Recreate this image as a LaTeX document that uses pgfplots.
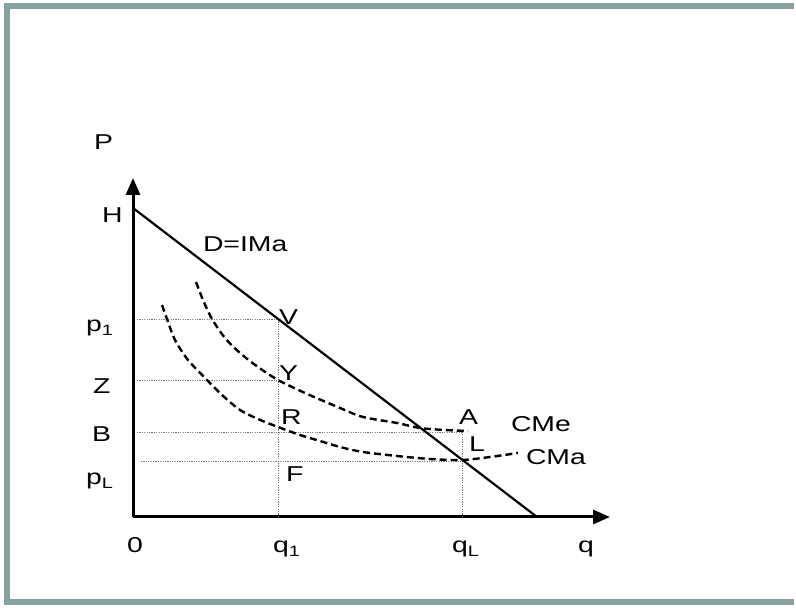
\documentclass[border=0pt]{standalone}
\usepackage{pgfplots}
\pgfplotsset{compat=1.18}
\usetikzlibrary{arrows.meta}
\usepackage{fontspec}
\setmainfont{Liberation Sans}
\definecolor{framegray}{RGB}{135,160,160}
\definecolor{guide}{RGB}{120,120,120}
\newcommand{\wide}[1]{\scalebox{1.32}[1]{#1}}
\begin{document}
\begin{tikzpicture}[x=1bp,y=1bp]
\useasboundingbox (0,0) rectangle (796,608);
\fill[white] (0,0) rectangle (796,608);
\draw[framegray, line width=6bp] (794,6) -- (7,6) -- (7,602) -- (794,602);
\begin{axis}[
  at={(133bp,91bp)}, anchor=south west,
  scale only axis, width=477bp, height=339bp,
  xmin=0, xmax=477, ymin=0, ymax=339,
  axis lines=left,
  axis line style={line width=3bp, -{Triangle[length=17bp,width=14bp]}},
  xtick=\empty, ytick=\empty,
  clip=false,
]
% guides
\addplot[guide, line width=0.9bp, dash pattern=on 1.2bp off 1.2bp] coordinates {(4,198) (145,198)};
\addplot[guide, line width=0.9bp, dash pattern=on 1.2bp off 1.2bp] coordinates {(4,137) (145,137)};
\addplot[guide, line width=0.9bp, dash pattern=on 1.2bp off 1.2bp] coordinates {(4,85) (329,85)};
\addplot[guide, line width=0.9bp, dash pattern=on 1.2bp off 1.2bp] coordinates {(8,56) (329,56)};
\addplot[guide, line width=0.9bp, dash pattern=on 1.2bp off 1.2bp] coordinates {(145,0) (145,198)};
\addplot[guide, line width=0.9bp, dash pattern=on 1.2bp off 1.2bp] coordinates {(329,0) (329,85)};
% demand
\addplot[black, line width=2.2bp] coordinates {(0,309) (404,0)};
% CMe
\addplot[black, line width=2.4bp, dash pattern=on 7bp off 4bp, smooth] coordinates {
(63,235) (70,217) (79,198) (92,179) (107,164) (125,150) (145,137) (172,124) (207,109) (230,100) (264,94) (287,89) (312,87) (335,86)};
% CMa
\addplot[black, line width=2.4bp, dash pattern=on 7bp off 4bp, smooth] coordinates {
(29,212) (34,198) (42,177) (55,157) (74,137) (89,122) (107,107) (125,98) (145,90) (167,82) (187,76) (207,70) (230,65) (264,61) (297,58) (329,57) (357,60) (385,64)};
\end{axis}
\tikzset{lab/.style={anchor=base west, inner sep=0pt, outer sep=0pt, font=\fontsize{21.5bp}{25bp}\selectfont}}
\node[lab] at (94,608-150) {\wide{P}};
\node[lab] at (102,608-223) {\wide{H}};
\node[lab] at (203,608-252) {\wide{D=IMa}};
\node[lab] at (86,608-332) {\wide{p\textsubscript{1}}};
\node[lab] at (93,608-394) {\wide{Z}};
\node[lab] at (92,608-442) {\wide{B}};
\node[lab] at (86,608-485) {\wide{p\textsubscript{L}}};
\node[lab] at (127,608-553) {\wide{0}};
\node[lab] at (273,608-553) {\wide{q\textsubscript{1}}};
\node[lab] at (452,608-553) {\wide{q\textsubscript{L}}};
\node[lab] at (578,608-553) {\wide{q}};
\node[lab] at (279,608-325) {\wide{V}};
\node[lab] at (279,608-381) {\wide{Y}};
\node[lab] at (281,608-425) {\wide{R}};
\node[lab] at (286,608-482) {\wide{F}};
\node[lab] at (459,608-425) {\wide{A}};
\node[lab] at (469,608-452) {\wide{L}};
\node[lab] at (511,608-432) {\wide{CMe}};
\node[lab] at (526,608-465) {\wide{CMa}};
\end{tikzpicture}
\end{document}
